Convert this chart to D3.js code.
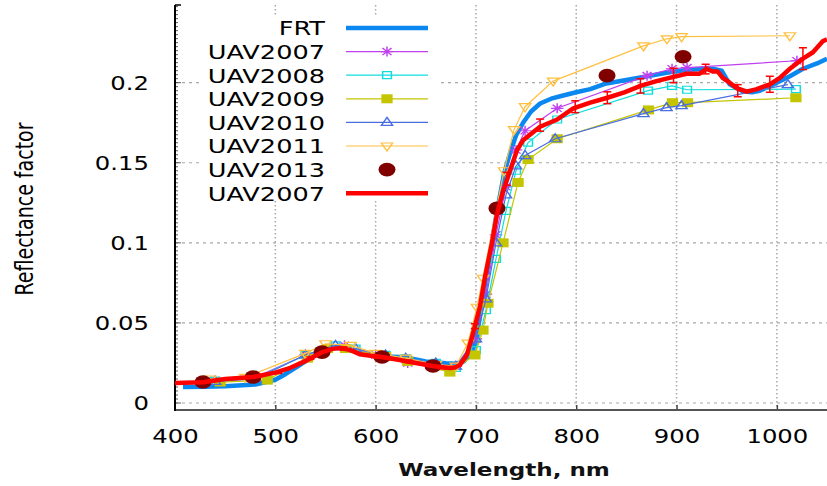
<!DOCTYPE html>
<html><head><meta charset="utf-8">
<script src="https://cdn.jsdelivr.net/npm/d3@7"></script>
<style>body{margin:0;background:#fff}svg{display:block}</style>
</head><body>
<svg id="c" width="827" height="486"></svg>
<script>
// ---------- data ----------
const xTicks = [400, 500, 600, 700, 800, 900, 1000];
const yTicks = [0, 0.05, 0.1, 0.15, 0.2];

const frtWl  = [408,430,450,480,500,510,520,530,540,550,560,570,580,590,610,630,650,670,680,688,695,700,705,710,715,720,728,735,740,747,755,764,775,787,800,814,830,857,890,910,936,945,953,966,975,983,1000,1013,1026,1040,1050];
const frtVal = [0.010,0.0102,0.0105,0.0115,0.0145,0.018,0.022,0.026,0.030,0.033,0.0345,0.034,0.0325,0.031,0.029,0.0285,0.026,0.0248,0.0245,0.026,0.031,0.038,0.058,0.078,0.097,0.116,0.143,0.158,0.167,0.175,0.182,0.187,0.190,0.192,0.194,0.196,0.1995,0.2025,0.2062,0.208,0.2087,0.2075,0.199,0.1946,0.194,0.195,0.200,0.204,0.2087,0.212,0.215];

const uav2007Wl  = [440,480,530,569,600,632,660,680,700,710,720,730,740,749,781,870.6,895.5,910.5,1020];
const uav2007Val = [0.014,0.016,0.030,0.036,0.030,0.025,0.024,0.023,0.040,0.068,0.105,0.135,0.158,0.170,0.184,0.2044,0.2087,0.2094,0.2137];

const uav2008Wl  = [440,480,530,560,580,610,630,660,680,700,710,720,730,740,752,781,871.6,895.5,910.5,1019];
const uav2008Val = [0.014,0.0155,0.030,0.036,0.034,0.030,0.028,0.025,0.022,0.033,0.058,0.090,0.120,0.145,0.1626,0.177,0.195,0.198,0.1956,0.196];

const uav2009Wl  = [445,492,532,552,570,610,632,674,699,707,712,727,742,752,781,872,896,911,1019];
const uav2009Val = [0.0131,0.0143,0.028,0.034,0.034,0.029,0.026,0.0193,0.030,0.0455,0.0623,0.100,0.1377,0.152,0.165,0.183,0.1875,0.1875,0.1906];

const uav2010Wl  = [440,480,530,560,580,610,630,660,680,700,710,720,730,740,749,779,867,890,905,1011];
const uav2010Val = [0.0135,0.015,0.030,0.036,0.034,0.030,0.028,0.025,0.023,0.040,0.065,0.100,0.130,0.148,0.1545,0.165,0.1807,0.1844,0.1857,0.1988];

const uav2011Wl  = [435,470,530,550,575,600,630,660,680,692,701,707,720,728,738,749,777,867,890.5,905,1013];
const uav2011Val = [0.015,0.016,0.031,0.037,0.036,0.031,0.028,0.024,0.023,0.0374,0.0598,0.0779,0.120,0.145,0.1707,0.185,0.201,0.223,0.2274,0.2287,0.2293];

const uav2013Wl  = [427.9,477.8,546.6,606.4,657.2,721,830.7,906.5];
const uav2013Val = [0.0131,0.0162,0.0318,0.0287,0.0231,0.1215,0.2044,0.2162];

const uav2007SpecWl  = [400,428,450,478,500,515,532,547,557,565,575,584,595,606,624,640,657,668,674,679,684,691,696,704,709,716,721,727,734,741,747,757,764,781,797,814,831,848,864,880,896,910,923,930,936,941,946,953,960,970,980,993,1003,1013,1026,1036,1046,1050];
const uav2007SpecVal = [0.0125,0.013,0.015,0.0162,0.019,0.022,0.0268,0.0318,0.0338,0.0343,0.033,0.0305,0.0295,0.0287,0.0268,0.025,0.0231,0.0222,0.0218,0.0222,0.0237,0.030,0.041,0.060,0.0785,0.100,0.118,0.132,0.145,0.158,0.164,0.169,0.1725,0.177,0.184,0.1875,0.1906,0.194,0.198,0.201,0.2035,0.2056,0.2056,0.2087,0.207,0.207,0.203,0.200,0.1966,0.1944,0.196,0.199,0.203,0.2087,0.215,0.219,0.226,0.227];

const errWl    = [437,470,503,535,568,601,633,666,699,731,764,799,831,864,897,929,961,993,1026];
const errVal   = [0.014,0.016,0.019,0.028,0.034,0.029,0.026,0.0222,0.048,0.140,0.1735,0.185,0.1906,0.198,0.2045,0.2085,0.195,0.199,0.215];
const errDelta = [0.0005,0.0005,0.0006,0.0008,0.001,0.0008,0.0008,0.0007,0.0015,0.004,0.0038,0.0037,0.0037,0.0045,0.0045,0.003,0.0038,0.005,0.0068];

const legendLabels = ["FRT","UAV2007","UAV2008","UAV2009","UAV2010","UAV2011","UAV2013","UAV2007"];

// ---------- setup ----------
const SX = 1.28;
const svg = d3.select("#c");
const L = 175, R = 827, T = 5, B = 410;
const x = d3.scaleLinear().domain([400, 1050]).range([L, R]);
const y = d3.scaleLinear().domain([-0.00436, 0.2485]).range([B, T]);
const font = "DejaVu Sans, Verdana, sans-serif";

svg.append("defs").append("clipPath").attr("id","clip")
  .append("rect").attr("x",L).attr("y",T).attr("width",R-L).attr("height",B-T);

// grid
const grid = svg.append("g");
grid.selectAll(".hg").data(yTicks).join("line")
  .attr("x1",L).attr("x2",R).attr("y1",d=>y(d)).attr("y2",d=>y(d))
  .attr("stroke","#a8a8a8").attr("stroke-width",1.2).attr("stroke-dasharray","3,4");
grid.selectAll(".vg").data(xTicks.filter(d=>d>400)).join("line")
  .attr("x1",d=>x(d)).attr("x2",d=>x(d)).attr("y1",T).attr("y2",B)
  .attr("stroke","#a8a8a8").attr("stroke-width",1.5).attr("stroke-dasharray","1.5,2.5");

// axes
const xAxis = svg.append("g").attr("transform",`translate(0,${B})`)
  .call(d3.axisBottom(x).tickValues(xTicks).tickSize(0).tickPadding(0).tickFormat(d3.format("d")));
xAxis.select(".domain").remove();
xAxis.selectAll(".tick line").remove();
xAxis.selectAll(".tick").filter(d=>d>400 && d<1050).append("line")
  .attr("y1",0).attr("y2",-5).attr("stroke","#444").attr("stroke-width",1.5);
xAxis.selectAll("text").attr("y",33).attr("dy",0)
  .attr("font-family",font).attr("font-size",19).attr("fill","#000")
  .attr("transform",`scale(${SX},1)`);
svg.append("line").attr("x1",L).attr("x2",R).attr("y1",B).attr("y2",B)
  .attr("stroke","#555").attr("stroke-width",2);

const yAxis = svg.append("g").attr("transform",`translate(${L},0)`)
  .call(d3.axisLeft(y).tickValues(yTicks).tickSize(0).tickPadding(0)
    .tickFormat(d => d === 0 ? "0" : String(d)));
yAxis.select(".domain").remove();
yAxis.selectAll(".tick line").remove();
yAxis.selectAll("text").attr("x",-26/SX).attr("dy","0.36em")
  .attr("font-family",font).attr("font-size",19).attr("fill","#000")
  .attr("transform",`scale(${SX},1)`);
const minor = d3.range(0, 0.2476, 0.0025);
svg.append("g").selectAll("line").data(minor).join("line")
  .attr("x1",L).attr("x2",d => (Math.abs(d/0.05 - Math.round(d/0.05))<1e-6) ? L+6 : L+3)
  .attr("y1",d=>y(d)).attr("y2",d=>y(d)).attr("stroke","#333").attr("stroke-width",0.8);
svg.append("line").attr("x1",L).attr("x2",L).attr("y1",T).attr("y2",B+1)
  .attr("stroke","#000").attr("stroke-width",2);
svg.append("line").attr("x1",L).attr("x2",L+6).attr("y1",T).attr("y2",T)
  .attr("stroke","#000").attr("stroke-width",1.5);

// axis titles
svg.append("text").attr("transform",`translate(504,476) scale(${SX},1)`)
  .attr("text-anchor","middle").attr("font-family",font).attr("font-weight","bold")
  .attr("font-size",18).attr("fill","#111").text("Wavelength, nm");
svg.append("text").attr("transform",`translate(33,209) scale(${SX},1) rotate(-90)`)
  .attr("text-anchor","middle").attr("font-family",font)
  .attr("font-size",19).text("Reflectance factor");

// ---------- marks ----------
const plot = svg.append("g").attr("clip-path","url(#clip)");
const zip = (a,b) => a.map((v,i)=>[v,b[i]]);
const line = d3.line().x(d=>x(d[0])).y(d=>y(d[1]));

function markerPath(type){
  switch(type){
    case "star": return "M-5,0H5M0,-5V5M-3.6,-3.6L3.6,3.6M-3.6,3.6L3.6,-3.6";
    case "sq": return "M-3.5,-3.5H3.5V3.5H-3.5Z";
    case "fsq": return "M-4.5,-4.5H4.5V4.5H-4.5Z";
    case "tri": return "M0,-5L4.5,3L-4.5,3Z";
    case "dtri": return "M0,5L4.5,-3L-4.5,-3Z";
  }
}
function drawMarker(g, px, py, type, color){
  const filled = type === "fsq";
  g.append("path").attr("d", markerPath(type))
    .attr("transform",`translate(${px},${py}) scale(1.25,1)`)
    .attr("fill", filled ? color : "none")
    .attr("stroke", color).attr("stroke-width", filled ? 0 : 1.2);
}

const series = [
  {wl:uav2007Wl, val:uav2007Val, color:"#c040f0", type:"star"},
  {wl:uav2008Wl, val:uav2008Val, color:"#10dede", type:"sq"},
  {wl:uav2009Wl, val:uav2009Val, color:"#c4c400", type:"fsq"},
  {wl:uav2010Wl, val:uav2010Val, color:"#4a6ee0", type:"tri"},
  {wl:uav2011Wl, val:uav2011Val, color:"#ffc040", type:"dtri"}
];

// FRT
plot.append("path").datum(zip(frtWl,frtVal)).attr("d",line)
  .attr("fill","none").attr("stroke","#0a88f0").attr("stroke-width",4.5)
  .attr("stroke-linejoin","round");

series.forEach(s=>{
  const pts = zip(s.wl,s.val);
  plot.append("path").datum(pts).attr("d",line).attr("fill","none")
    .attr("stroke",s.color).attr("stroke-width",1.2);
  const g = plot.append("g");
  pts.forEach(p=>drawMarker(g, x(p[0]), y(p[1]), s.type, s.color));
});

// UAV2013 dots
plot.append("g").selectAll("ellipse").data(zip(uav2013Wl,uav2013Val)).join("ellipse")
  .attr("cx",d=>x(d[0])).attr("cy",d=>y(d[1])).attr("rx",8.5).attr("ry",6.8)
  .attr("fill","#800000");

// red spectrum with error bars
plot.append("path").datum(zip(uav2007SpecWl,uav2007SpecVal)).attr("d",line)
  .attr("fill","none").attr("stroke","#ff0000").attr("stroke-width",4.5)
  .attr("stroke-linejoin","round");
const eb = plot.append("g").attr("stroke","#ff0000").attr("stroke-width",1.5);
errWl.forEach((w,i)=>{
  const cx = x(w), y1 = y(errVal[i]-errDelta[i]), y2 = y(errVal[i]+errDelta[i]);
  eb.append("line").attr("x1",cx).attr("x2",cx).attr("y1",y1).attr("y2",y2);
  eb.append("line").attr("x1",cx-4).attr("x2",cx+4).attr("y1",y1).attr("y2",y1);
  eb.append("line").attr("x1",cx-4).attr("x2",cx+4).attr("y1",y2).attr("y2",y2);
});

// ---------- legend ----------
const lg = svg.append("g");
lg.append("rect").attr("x",199).attr("y",17).attr("width",240).attr("height",184).attr("fill","#fff");
const rowY = i => 28 + i*23.6;
const legendStyles = [
  {color:"#0a88f0", w:4.5, type:null, line:true},
  {color:"#c040f0", w:1.2, type:"star", line:true},
  {color:"#10dede", w:1.2, type:"sq", line:true},
  {color:"#c4c400", w:1.2, type:"fsq", line:true},
  {color:"#4a6ee0", w:1.2, type:"tri", line:true},
  {color:"#ffc040", w:1.2, type:"dtri", line:true},
  {color:"#800000", w:0, type:"dot", line:false},
  {color:"#ff0000", w:4.5, type:null, line:true}
];
legendLabels.forEach((lab,i)=>{
  const yy = rowY(i);
  lg.append("text").attr("transform",`translate(325,${yy}) scale(${SX},1)`)
    .attr("text-anchor","end").attr("dy","0.37em")
    .attr("font-family",font).attr("font-size",20).text(lab);
  const st = legendStyles[i];
  if (st.line) lg.append("line").attr("x1",346).attr("x2",428).attr("y1",yy).attr("y2",yy)
    .attr("stroke",st.color).attr("stroke-width",st.w);
  if (st.type === "dot") lg.append("ellipse").attr("cx",387).attr("cy",yy).attr("rx",8.5).attr("ry",6.8).attr("fill",st.color);
  else if (st.type) drawMarker(lg, 387, yy, st.type, st.color);
});
</script>
</body></html>
